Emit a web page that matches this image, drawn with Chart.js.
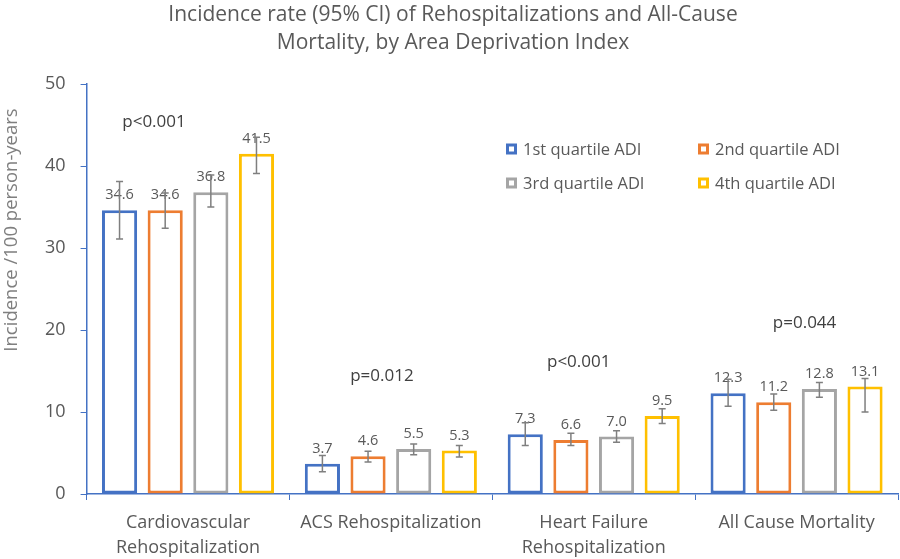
<!DOCTYPE html>
<html>
<head>
<meta charset="utf-8">
<script src="https://cdn.jsdelivr.net/npm/chart.js@4"></script>
<style>
  html, body { margin: 0; padding: 0; background: #fff; }
  #wrap { width: 900px; height: 559px; }
</style>
</head>
<body>
<div id="wrap"><canvas id="myChart" width="900" height="559"></canvas></div>
<script>
// categories and series
const categories = [['Cardiovascular', 'Rehospitalization'], 'ACS Rehospitalization', ['Heart Failure', 'Rehospitalization'], 'All Cause Mortality'];
const seriesNames = ['1st quartile ADI', '2nd quartile ADI', '3rd quartile ADI', '4th quartile ADI'];
const q1Values = [34.6, 3.7, 7.3, 12.3];
const q2Values = [34.6, 4.6, 6.6, 11.2];
const q3Values = [36.8, 5.5, 7.0, 12.8];
const q4Values = [41.5, 5.3, 9.5, 13.1];

// 95% CI bounds
const q1Lower = [31.1, 2.7, 5.9, 10.7];
const q1Upper = [38.1, 4.7, 8.7, 14.0];
const q2Lower = [32.4, 3.9, 5.9, 10.2];
const q2Upper = [36.7, 5.2, 7.4, 12.2];
const q3Lower = [35.0, 4.8, 6.3, 11.8];
const q3Upper = [38.9, 6.1, 7.7, 13.6];
const q4Lower = [39.1, 4.5, 8.6, 10.0];
const q4Upper = [43.5, 5.9, 10.4, 14.1];

const pValues = ['p<0.001', 'p=0.012', 'p<0.001', 'p=0.044'];
const yTicks = [0, 10, 20, 30, 40, 50];
const titleLines = ['Incidence rate (95% CI) of Rehospitalizations and All-Cause', 'Mortality, by Area Deprivation Index'];

const colors = ['#4472C4', '#ED7D31', '#A5A5A5', '#FFC000'];
const allValues = [q1Values, q2Values, q3Values, q4Values];
const allLower = [q1Lower, q2Lower, q3Lower, q4Lower];
const allUpper = [q1Upper, q2Upper, q3Upper, q4Upper];

const FONT = '"Open Sans"';
const TEXT = '#595959';

// p-value placement: y in data units, x offset from category centre
const pPos = [{y: 45.3, dx: -34}, {y: 14.4, dx: -9}, {y: 16.1, dx: -15}, {y: 20.8, dx: 8}];

const extras = {
    id: 'extras',
    afterDatasetsDraw(chart) {
        const ctx = chart.ctx;
        const yScale = chart.scales.y;
        const xScale = chart.scales.x;
        ctx.save();

        // title
        ctx.font = '21px ' + FONT;
        ctx.fillStyle = TEXT;
        ctx.textAlign = 'center';
        ctx.textBaseline = 'middle';
        titleLines.forEach((line, i) => ctx.fillText(line, 453, 15 + i * 28));

        // value labels above bars
        ctx.font = '14.5px ' + FONT;
        chart.data.datasets.forEach((ds, di) => {
            chart.getDatasetMeta(di).data.forEach((bar, i) => {
                ctx.fillText(ds.data[i].toFixed(1), bar.x, bar.y - 15);
            });
        });

        // error bars
        ctx.strokeStyle = '#7F7F7F';
        ctx.lineWidth = 1.5;
        chart.data.datasets.forEach((ds, di) => {
            chart.getDatasetMeta(di).data.forEach((bar, i) => {
                const yl = yScale.getPixelForValue(allLower[di][i]);
                const yh = yScale.getPixelForValue(allUpper[di][i]);
                ctx.beginPath();
                ctx.moveTo(bar.x, yl); ctx.lineTo(bar.x, yh);
                ctx.moveTo(bar.x - 3.5, yl); ctx.lineTo(bar.x + 3.5, yl);
                ctx.moveTo(bar.x - 3.5, yh); ctx.lineTo(bar.x + 3.5, yh);
                ctx.stroke();
            });
        });

        // p-values
        ctx.font = '17px ' + FONT;
        ctx.fillStyle = '#404040';
        pValues.forEach((p, i) => {
            ctx.fillText(p, xScale.getPixelForValue(i) + pPos[i].dx, yScale.getPixelForValue(pPos[i].y));
        });

        // legend (2 columns, inside plot)
        ctx.font = '16.5px ' + FONT;
        ctx.textAlign = 'left';
        const cols = [506, 698];
        const rows = [149, 183];
        seriesNames.forEach((name, i) => {
            const x = cols[i % 2], y = rows[Math.floor(i / 2)];
            ctx.strokeStyle = colors[i];
            ctx.lineWidth = 3;
            ctx.strokeRect(x + 1.5, y - 4, 8, 8);
            ctx.fillStyle = TEXT;
            ctx.fillText(name, x + 17, y + 1);
        });

        // y axis title
        ctx.translate(12, 230);
        ctx.rotate(-Math.PI / 2);
        ctx.textAlign = 'center';
        ctx.font = '18.5px ' + FONT;
        ctx.fillStyle = '#7F7F7F';
        ctx.fillText('Incidence /100 person-years', 0, 0);
        ctx.restore();
    }
};

const ctx = document.getElementById('myChart').getContext('2d');
new Chart(ctx, {
    type: 'bar',
    data: {
        labels: categories,
        datasets: seriesNames.map((name, i) => ({
            label: name,
            data: allValues[i],
            backgroundColor: '#ffffff',
            borderColor: colors[i],
            borderWidth: 3,
            borderSkipped: false,
            categoryPercentage: 0.9,
            barPercentage: 0.77
        }))
    },
    options: {
        responsive: false,
        animation: false,
        layout: { padding: { left: 30, right: 2, top: 84, bottom: -11 } },
        plugins: {
            legend: { display: false },
            tooltip: { enabled: false },
            title: { display: false }
        },
        scales: {
            x: {
                grid: { display: true, drawOnChartArea: false, color: '#4472C4', tickLength: 6, offset: true },
                border: { color: '#4472C4', width: 1.5 },
                ticks: { color: TEXT, font: { family: FONT, size: 18, lineHeight: 25 / 18 }, padding: 10, maxRotation: 0, autoSkip: false }
            },
            y: {
                min: 0,
                max: 50,
                afterBuildTicks: (axis) => { axis.ticks = yTicks.map(v => ({ value: v })); },
                grid: { display: true, drawOnChartArea: false, color: '#4472C4', tickLength: 6 },
                border: { color: '#4472C4', width: 1.5 },
                ticks: { color: TEXT, font: { family: FONT, size: 18 }, padding: 15 }
            }
        }
    },
    plugins: [extras]
});
</script>
</body>
</html>
